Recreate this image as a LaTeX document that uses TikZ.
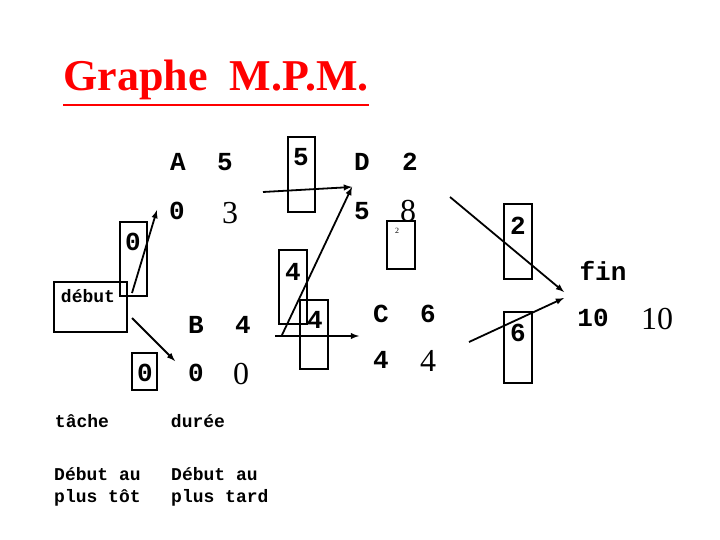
\documentclass[tikz,border=0pt]{standalone}
\usepackage{fontspec}
\setmainfont{Liberation Serif}
\newfontfamily\mono{Liberation Mono}
\begin{document}
\begin{tikzpicture}[x=1pt,y=-1pt,
  bx/.style={draw,line width=2.8pt},
  ar/.style={draw,line width=1.8pt,-latex},
  m/.style={font=\mono\bfseries\fontsize{26}{26}\selectfont,inner sep=0},
  s/.style={font=\fontsize{32}{32}\selectfont,inner sep=0},
  sm/.style={font=\mono\bfseries\fontsize{18}{22}\selectfont,inner sep=0,align=left}]
\useasboundingbox (0,0) rectangle (720,540);
\node[inner sep=0,text=red,font=\bfseries\fontsize{44}{44}\selectfont] (title) at (216,80) {Graphe\ \ M.P.M.};
\draw[red,line width=2.5pt] ([yshift=-5pt]title.south west) -- ([yshift=-5pt]title.south east);
% boxes
\draw[bx] (54,282) rectangle (127,332);
\node[sm] (deb) at (88,296) {début};
\draw[bx] (120,222) rectangle (147,296);
\node[m] (z1) at (133,242) {0};
\draw[bx] (132,353) rectangle (157,390);
\node[m] (z2) at (145,373) {0};
\draw[bx] (288,137) rectangle (315,212);
\node[m] (f5) at (301,157) {5};
\draw[bx] (279,250) rectangle (307,324);
\node[m] (f4a) at (293,272) {4};
\draw[bx] (300,300) rectangle (328,369);
\node[m] (f4b) at (315,320) {4};
\draw[bx] (387,221) rectangle (415,269);
\node[inner sep=0,font=\fontsize{8}{8}\selectfont] (t2) at (397,231) {2};
\draw[bx] (504,204) rectangle (532,279);
\node[m] (f2) at (518,226) {2};
\draw[bx] (504,312) rectangle (532,383);
\node[m] (f6) at (518,333) {6};
% task texts
\node[m] (A) at (178,162) {A}; \node[m] (A5) at (225,162) {5};
\node[m] (A0) at (177,211) {0}; \node[s] (A3) at (230,213) {3};
\node[m] (D) at (362,162) {D}; \node[m] (D2) at (410,162) {2};
\node[m] (D5) at (362,211) {5}; \node[s] (D8) at (408,211) {8};
\node[m] (B) at (196,325) {B}; \node[m] (B4) at (243,325) {4};
\node[m] (B0) at (196,373) {0}; \node[s] (B00) at (241,374) {0};
\node[m] (C) at (381,314) {C}; \node[m] (C6) at (428,314) {6};
\node[m] (C4) at (381,360) {4}; \node[s] (C44) at (428,361) {4};
\node[m] (fin) at (603,271) {fin};
\node[m] (F10) at (593,318) {10}; \node[s] (F1010) at (657,319) {10};
\node[sm] (tache) at (82,421) {tâche};
\node[sm] (duree) at (198,421) {durée};
\node[sm,anchor=west] (dt) at (54,487) {Début au\\plus tôt};
\node[sm,anchor=west] (dtd) at (171,487) {Début au\\plus tard};
% arrows
\coordinate (a1) at (132,293); \coordinate (a1e) at (157,210);
\coordinate (a2) at (132,318); \coordinate (a2e) at (175,361);
\coordinate (a3) at (263,192); \coordinate (de) at (352,187);
\coordinate (a4) at (282,335);
\coordinate (a5) at (275,336); \coordinate (a5e) at (359,336);
\coordinate (a6) at (450,197); \coordinate (fe1) at (564,292);
\coordinate (a7) at (469,342); \coordinate (fe2) at (564,298);
\draw[ar] (a1) -- (a1e);
\draw[ar] (a2) -- (a2e);
\draw[ar] (a3) -- (de);
\draw[ar] (a4) -- (de);
\draw[ar] (a5) -- (a5e);
\draw[ar] (a6) -- (fe1);
\draw[ar] (a7) -- (fe2);
\end{tikzpicture}
\end{document}
